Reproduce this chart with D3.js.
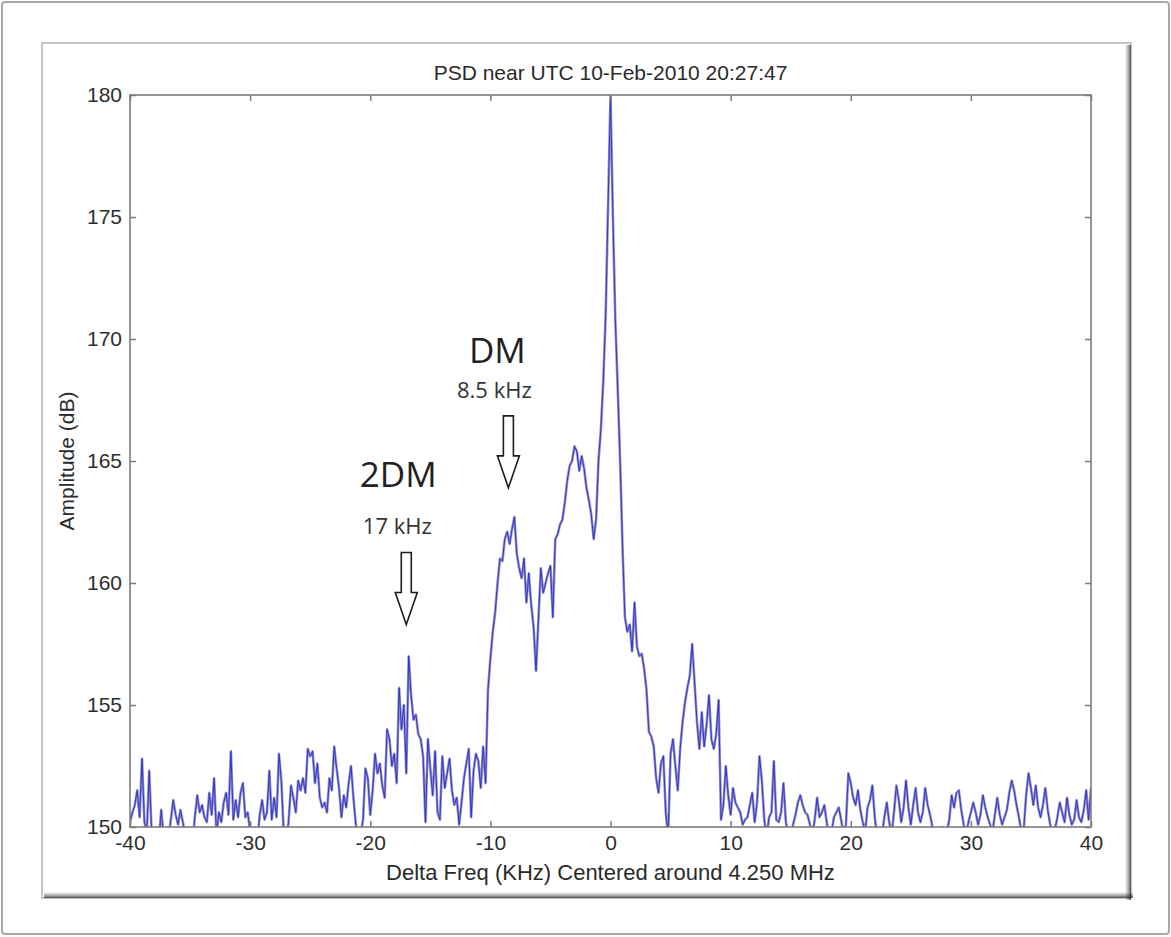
<!DOCTYPE html>
<html>
<head>
<meta charset="utf-8">
<script src="https://cdn.jsdelivr.net/npm/d3@7"></script>
<style>
  html, body { margin: 0; padding: 0; background: #fff; }
  svg { display: block; }
</style>
</head>
<body>
<svg id="chart" width="1171" height="937"></svg>
<script>
// ---- Chart text ----
const title = "PSD near UTC 10-Feb-2010 20:27:47";
const xLabel = "Delta Freq (KHz) Centered around 4.250 MHz";
const yLabel = "Amplitude (dB)";

// ---- Tick values ----
const xTicks = [-40, -30, -20, -10, 0, 10, 20, 30, 40];
const yTicks = [150, 155, 160, 165, 170, 175, 180];

// ---- Spectrum samples (dB), 0.2 kHz bins starting at -40 kHz ----
const freqStart = -40;
const freqStep = 0.2;

// -40.0 .. -20.2 kHz
const ampFarLeft = [
  150.2,150.6,150.9,151.5,150.4,152.8,150.2,149.8,152.3,149.8,
  149.5,149.6,149.4,150.7,149.6,149.5,149.6,150.3,151.1,150.5,
  150.1,150.7,150.2,149.7,149.5,149.6,149.4,150.4,151.3,150.6,
  150.9,150.4,150.2,151.4,150.5,152.0,149.7,150.6,150.2,151.0,
  151.4,150.5,153.1,150.3,151.1,150.4,151.4,151.8,150.4,150.6,
  149.8,149.5,149.6,149.4,150.5,151.1,150.3,150.6,152.3,150.3,
  151.2,150.4,153.0,151.9,149.7,149.5,150.2,151.7,151.2,150.6,
  151.9,151.5,152.0,151.4,153.2,152.9,153.1,151.8,152.6,151.2,
  150.8,151.0,150.6,152.0,151.5,153.3,152.4,151.6,150.4,151.3,
  150.8,151.8,152.5,151.2,150.1,149.6,149.7,150.3,152.4,152.0
];

// -20.0 .. -0.2 kHz (2DM and DM sidebands)
const ampLowerSide = [
  150.5,151.5,153.0,152.2,152.6,151.7,151.2,154.0,153.6,152.5,
  153.0,151.8,155.7,154.0,155.0,152.2,157.0,155.4,154.4,154.6,
  153.8,153.6,152.9,150.2,153.6,152.4,151.3,153.1,150.6,150.3,
  152.9,151.6,152.2,152.8,151.5,150.9,151.2,150.1,151.0,152.0,
  152.6,153.2,150.4,152.3,153.0,152.7,151.6,153.3,151.8,155.6,
  156.9,158.0,158.8,160.0,161.0,160.9,161.8,162.1,161.6,162.2,
  162.7,161.2,160.6,160.2,161.0,159.2,160.4,159.1,158.2,156.4,
  158.5,160.6,159.6,160.0,160.4,160.7,158.6,161.8,162.0,162.4,
  162.6,163.3,164.2,164.8,165.0,165.6,165.4,164.6,165.2,164.7,
  163.9,163.4,162.8,161.8,162.6,165.0,166.3,168.3,171.0,175.5
];

// 0.0 .. 19.8 kHz (carrier and upper side)
const ampUpperSide = [
  180.0,175.0,170.8,168.0,165.0,161.5,158.6,158.0,158.3,157.2,
  159.2,157.4,157.0,157.1,156.5,155.6,153.9,153.7,153.3,152.0,
  151.4,152.6,152.9,150.6,149.6,153.0,153.6,152.5,151.5,153.2,
  154.3,155.1,155.7,156.2,157.5,155.9,154.3,153.2,154.7,153.3,
  154.2,155.4,153.6,153.2,153.8,155.2,150.3,150.9,152.5,151.3,
  150.5,151.6,151.0,150.8,150.6,150.1,150.3,150.4,150.9,151.4,
  150.2,151.0,152.9,151.9,150.3,149.6,150.4,150.6,152.7,150.3,
  150.2,150.6,151.8,150.2,149.7,149.8,150.1,150.5,151.0,151.3,
  150.9,150.6,150.5,150.1,149.7,150.3,151.2,150.4,150.6,150.9,
  150.2,149.6,149.8,150.4,150.6,150.8,150.3,149.7,150.1,152.2
];

// 20.0 .. 40.0 kHz
const ampFarRight = [
  151.8,151.2,150.9,151.5,150.7,150.2,149.8,150.8,151.1,151.7,
  150.4,149.6,149.8,149.7,150.4,151.0,150.2,149.7,150.6,151.7,
  151.1,150.2,150.8,151.9,150.8,150.1,150.9,151.6,150.6,150.2,
  150.6,151.6,150.9,150.5,150.0,149.8,149.6,149.9,150.0,149.7,
  149.8,150.3,151.3,150.8,151.4,151.5,150.7,150.1,149.7,150.2,
  150.6,151.0,150.6,150.1,150.5,151.3,150.8,150.4,150.1,149.8,
  150.5,151.2,150.5,150.1,150.4,150.7,151.4,151.9,151.5,150.9,
  150.4,149.8,149.9,151.3,152.2,151.6,150.9,151.7,150.8,150.4,
  150.9,151.6,150.7,150.1,149.8,149.9,150.4,151.0,150.6,150.2,
  151.2,150.5,150.1,150.3,151.1,150.4,150.2,150.7,151.5,150.3,
  151.6
];

// ---- Sideband annotations ----
const markerNames = ["DM", "2DM"];
const markerSubs = ["8.5 kHz", "17 kHz"];
const markerFreqs = [-8.5, -17];
const markerTips = [163.9, 158.3];

// ---- Layout ----
const W = 1171, H = 937;
const plot = { left: 130, right: 1091, top: 95, bottom: 827 };
const axisFont = "'Liberation Sans', Arial, Helvetica, sans-serif";
const noteFont = "'Open Sans', 'Noto Sans', sans-serif";

const amplitudes = ampFarLeft.concat(ampLowerSide, ampUpperSide, ampFarRight);
const spectrum = amplitudes.map((a, i) => ({ f: freqStart + i * freqStep, a }));

const x = d3.scaleLinear().domain([-40, 40]).range([plot.left, plot.right]);
const y = d3.scaleLinear().domain([150, 180]).range([plot.bottom, plot.top]);

// plain hyphen-minus tick labels
const tickFmt = d => String(d);

const svg = d3.select("#chart");
const defs = svg.append("defs");

// gradients for the frame shadow
const gR = defs.append("linearGradient").attr("id", "shadeR").attr("x1", 0).attr("x2", 1).attr("y1", 0).attr("y2", 0);
gR.append("stop").attr("offset", 0).attr("stop-color", "#000").attr("stop-opacity", 0);
gR.append("stop").attr("offset", 1).attr("stop-color", "#000").attr("stop-opacity", 0.6);
const gB = defs.append("linearGradient").attr("id", "shadeB").attr("x1", 0).attr("x2", 0).attr("y1", 0).attr("y2", 1);
gB.append("stop").attr("offset", 0).attr("stop-color", "#000").attr("stop-opacity", 0);
gB.append("stop").attr("offset", 1).attr("stop-color", "#000").attr("stop-opacity", 0.6);

defs.append("clipPath").attr("id", "plotClip")
  .append("rect")
  .attr("x", plot.left).attr("y", plot.top)
  .attr("width", plot.right - plot.left).attr("height", plot.bottom - plot.top);

// outer page border
svg.append("rect").attr("x", 0).attr("y", 0).attr("width", W).attr("height", H).attr("fill", "#fff");
svg.append("rect")
  .attr("x", 2).attr("y", 2).attr("width", W - 4).attr("height", H - 5)
  .attr("rx", 3).attr("fill", "#fff")
  .attr("stroke", "#a8a8a8").attr("stroke-width", 2);

// inner figure frame with soft shadow on right/bottom
const fr = { x: 42, y: 43, w: 1089, h: 855 };
svg.append("rect")
  .attr("x", fr.x).attr("y", fr.y).attr("width", fr.w).attr("height", fr.h)
  .attr("fill", "#fff").attr("stroke", "#b4b4b4").attr("stroke-width", 1.5);
svg.append("rect")
  .attr("x", fr.x + fr.w - 6).attr("y", fr.y + 2).attr("width", 6).attr("height", fr.h)
  .attr("fill", "url(#shadeR)");
svg.append("rect")
  .attr("x", fr.x + 2).attr("y", fr.y + fr.h - 6).attr("width", fr.w).attr("height", 6)
  .attr("fill", "url(#shadeB)");

// title
svg.append("text")
  .attr("x", (plot.left + plot.right) / 2).attr("y", 80)
  .attr("text-anchor", "middle")
  .attr("font-family", axisFont).attr("font-size", 21).attr("fill", "#2a2a2a")
  .text(title);

// spectrum trace
const line = d3.line().x(d => x(d.f)).y(d => y(d.a));
const traceG = svg.append("g").attr("clip-path", "url(#plotClip)");
traceG.append("path").datum(spectrum)
  .attr("d", line).attr("fill", "none")
  .attr("stroke", "#9393c2").attr("stroke-width", 2.6).attr("stroke-linejoin", "round");
traceG.append("path").datum(spectrum)
  .attr("d", line).attr("fill", "none")
  .attr("stroke", "#2a2ad2").attr("stroke-width", 0.9).attr("stroke-linejoin", "round");

// axes box
const axisColor = "#7c7c7c";
function styleAxis(g) {
  g.select(".domain").remove();
  g.selectAll(".tick line").attr("stroke", axisColor).attr("stroke-width", 1.5);
  g.selectAll(".tick text")
    .attr("font-family", axisFont).attr("font-size", 21).attr("fill", "#2e2e2e");
}
svg.append("g").attr("transform", `translate(0,${plot.bottom})`)
  .call(d3.axisBottom(x).tickValues(xTicks).tickSize(-6).tickPadding(8).tickFormat(tickFmt))
  .call(styleAxis);
svg.append("g").attr("transform", `translate(0,${plot.top})`)
  .call(d3.axisTop(x).tickValues(xTicks).tickSize(-6).tickFormat(""))
  .call(styleAxis);
svg.append("g").attr("transform", `translate(${plot.left},0)`)
  .call(d3.axisLeft(y).tickValues(yTicks).tickSize(-6).tickPadding(8).tickFormat(tickFmt))
  .call(styleAxis);
svg.append("g").attr("transform", `translate(${plot.right},0)`)
  .call(d3.axisRight(y).tickValues(yTicks).tickSize(-6).tickFormat(""))
  .call(styleAxis);
svg.append("rect")
  .attr("x", plot.left).attr("y", plot.top)
  .attr("width", plot.right - plot.left).attr("height", plot.bottom - plot.top)
  .attr("fill", "none").attr("stroke", axisColor).attr("stroke-width", 1.6);

// axis labels
svg.append("text")
  .attr("x", (plot.left + plot.right) / 2).attr("y", 880)
  .attr("text-anchor", "middle")
  .attr("font-family", axisFont).attr("font-size", 22).attr("fill", "#2a2a2a")
  .text(xLabel);
svg.append("text")
  .attr("transform", `translate(74,${(plot.top + plot.bottom) / 2}) rotate(-90)`)
  .attr("text-anchor", "middle")
  .attr("font-family", axisFont).attr("font-size", 21).attr("fill", "#2a2a2a")
  .text(yLabel);

// sideband markers: hollow down arrows with labels
const arrowLen = 72, shaftW = 10, headW = 22, headLen = 32;
const nameDy = [-53, -65];
const nameDx = [-11, -8];
const subDx = [-14, -9];
markerNames.forEach((name, i) => {
  const cx = x(markerFreqs[i]);
  const tipY = y(markerTips[i]);
  const topY = tipY - arrowLen;
  const neckY = tipY - headLen;
  const pts = [
    [cx - shaftW / 2, topY], [cx + shaftW / 2, topY], [cx + shaftW / 2, neckY],
    [cx + headW / 2, neckY], [cx, tipY], [cx - headW / 2, neckY], [cx - shaftW / 2, neckY]
  ];
  svg.append("path")
    .attr("d", "M" + pts.map(p => p.join(",")).join("L") + "Z")
    .attr("fill", "#fff").attr("stroke", "#1e1e1e").attr("stroke-width", 1.6)
    .attr("stroke-linejoin", "miter");
  svg.append("text")
    .attr("x", cx + subDx[i]).attr("y", topY - 18)
    .attr("text-anchor", "middle")
    .attr("font-family", noteFont).attr("font-size", 22).attr("fill", "#333")
    .text(markerSubs[i]);
  svg.append("text")
    .attr("x", cx + nameDx[i]).attr("y", topY + nameDy[i])
    .attr("text-anchor", "middle")
    .attr("font-family", noteFont).attr("font-size", 35).attr("fill", "#222")
    .text(name);
});
</script>
</body>
</html>
